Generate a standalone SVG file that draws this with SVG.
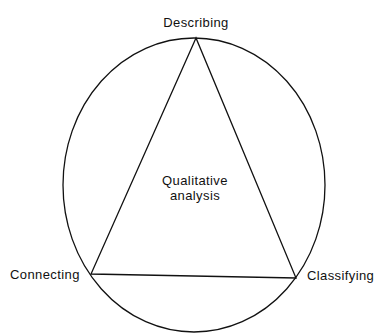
<svg xmlns="http://www.w3.org/2000/svg" width="375" height="333" viewBox="0 0 375 333">
<style>
.ln{fill:none;stroke:#111;stroke-width:1.3}
text{font-family:"Liberation Sans",Arial,sans-serif;font-size:13px;letter-spacing:0.4px;fill:#111}
</style>
<rect width="375" height="333" fill="#fff"/>
<g id="connectors">
<ellipse class="ln" cx="194" cy="185" rx="131" ry="147"/>
<polygon class="ln" points="196,38 91,274 296,278"/>
</g>
<g id="describing"><text x="196" y="27" text-anchor="middle">Describing</text></g>
<g id="center"><text x="195" y="185" text-anchor="middle">Qualitative</text><text x="195" y="200" text-anchor="middle">analysis</text></g>
<g id="connecting"><text x="10" y="279">Connecting</text></g>
<g id="classifying"><text x="307" y="280">Classifying</text></g>
</svg>
